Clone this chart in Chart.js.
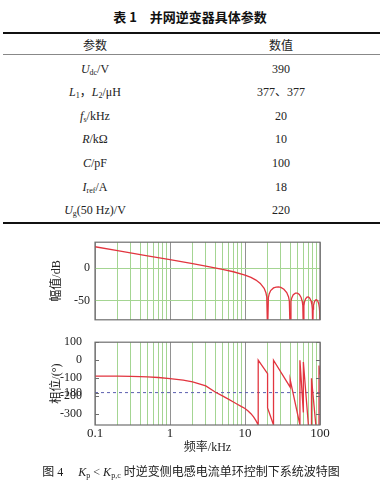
<!DOCTYPE html>
<html><head><meta charset="utf-8">
<script src="https://cdn.jsdelivr.net/npm/chart.js@4/dist/chart.umd.min.js"></script>
<style>
html,body{margin:0;padding:0;background:#fff;}
body{width:382px;height:486px;position:relative;overflow:hidden;font-family:"Liberation Serif","Noto Sans CJK SC",serif;color:#222;}
#ttl{position:absolute;left:0;width:380px;top:8px;height:18px;line-height:18px;text-align:center;font-family:"Noto Sans CJK SC";font-weight:bold;font-size:13px;color:#111;}
.rule{position:absolute;left:3px;width:377px;}
.cell{position:absolute;height:16px;line-height:16px;width:180px;text-align:center;font-size:12px;white-space:nowrap;}
.cell.l{left:5px;}
.cell.r{left:191px;}
.hd{font-family:"Noto Sans CJK SC";font-size:12px;}
sub{font-size:8px;vertical-align:-2px;line-height:0;font-style:normal;}
#cap{position:absolute;left:0;width:382px;top:464px;height:16px;line-height:16px;text-align:center;font-size:12px;white-space:nowrap;font-family:"Liberation Serif","Noto Sans CJK SC";}
canvas{position:absolute;left:0;}
</style>
</head><body>
<div id="ttl">表 1　并网逆变器具体参数</div>
<div class="rule" style="top:32px;height:1.5px;background:#111"></div>
<div class="cell l hd" style="top:37px">参数</div>
<div class="cell r hd" style="top:37px">数值</div>
<div class="rule" style="top:54px;height:1.3px;background:#888"></div>
<div id="rows"></div>
<div class="rule" style="top:222px;height:1.5px;background:#111"></div>
<canvas id="mag" width="382" height="102" style="top:230px"></canvas>
<canvas id="pha" width="382" height="125" style="top:330px"></canvas>
<div id="cap">图 4　 <i>K</i><sub>p</sub> &lt; <i>K</i><sub>p,c</sub> 时逆变侧电感电流单环控制下系统波特图</div>
<script>
// ---------- table data ----------
const paramNames = [
  '<i>U</i><sub>dc</sub>/V',
  '<i>L</i><sub>1</sub>，<i>L</i><sub>2</sub>/μH',
  '<i>f</i><sub>s</sub>/kHz',
  '<i>R</i>/kΩ',
  '<i>C</i>/pF',
  '<i>I</i><sub>ref</sub>/A',
  '<i>U</i><sub>g</sub>(50 Hz)/V'
];
const paramValues = ['390', '377、377', '20', '10', '100', '18', '220'];

// ---------- chart data ----------
const xTickLabels = ['0.1', '1', '10', '100'];
const magTicks = [-50, 0];
const phaseTicks = [100, 0, -100, -180, -200, -300];
const magFreq = [0.1,0.2,0.5,1,2,3,5,7,10,12,14,16,18,19,19.5,20,20.5,21,22,24,26,28,30,33,36,38,39,40,41,42,44,47,50,53,56,58,59,60,61,62,64,67,70,73,76,78,79,80,81,82,84,87,90,93,96,98,99,100];
const magDb = [33.0,27.0,19.0,13.0,6.8,3.1,-1.9,-5.7,-10.9,-14.5,-18.6,-23.7,-31.3,-38.2,-44.6,-100,-45.5,-39.9,-34.8,-30.7,-29.4,-29.2,-30.0,-32.7,-37.8,-44.3,-50.7,-100,-51.5,-46.1,-41.3,-38.8,-38.9,-40.9,-45.5,-51.7,-57.9,-100,-58.4,-52.8,-47.8,-45.0,-44.7,-46.5,-50.8,-56.8,-62.9,-100,-63.4,-57.7,-52.5,-49.5,-49.1,-50.7,-54.8,-60.8,-66.9,-100];
const phaseFreq = [0.1,0.15,0.2,0.3,0.4,0.5,0.7,1,1.5,2,3,4,5,6,7,8,9,10,11,12,13,14,15,15,20,20,24,24,40,40,54,54,60,60,70,70,77,77,88,88,97,97,100];
const phaseDeg = [-88,-88.5,-89,-90,-91,-92.5,-96,-102,-111,-121,-143,-177,-198,-216,-232,-246,-258,-268,-282,-297,-315,-336,-360,0,-75,-265,-360,0,-150,-108,-360,0,-290,-10,-360,-380,-380,-100,-360,-380,-380,-30,-80];
const refLine = -180;

// ---------- table build ----------
const rowsDiv = document.getElementById('rows');
paramNames.forEach((n, i) => {
  const y = 60.5 + i * 23.6;
  rowsDiv.insertAdjacentHTML('beforeend',
    `<div class="cell l" style="top:${y}px">${n}</div><div class="cell r" style="top:${y}px">${paramValues[i]}</div>`);
});

// ---------- chart helpers ----------
const RED = '#e2353f', GREEN = '#a4d592', DECADE = '#929292', FRAME = '#6e6e6e';
const gridFreqs = [];
[0.1, 1, 10].forEach(d => { for (let m = 1; m <= 9; m++) gridFreqs.push(Number((m * d).toPrecision(3))); });
gridFreqs.push(100);
const isDecade = v => Math.abs(Math.log10(v) - Math.round(Math.log10(v))) < 1e-6;
const decadeLabel = v => {
  const k = Math.round(Math.log10(v)) + 1;
  return xTickLabels[k] !== undefined ? xTickLabels[k] : '';
};
const tickFont = {family: '"Liberation Serif", serif', size: 12};
const titleFont = {family: '"Liberation Serif", "Noto Sans CJK SC", serif', size: 12};

const framePlugin = {
  id: 'frame',
  afterDatasetsDraw(chart, args, opts) {
    const {ctx, chartArea: a} = chart;
    ctx.save();
    ctx.strokeStyle = FRAME;
    ctx.lineWidth = 1.2;
    ctx.strokeRect(a.left, a.top, a.right - a.left, a.bottom - a.top);
    if (opts && opts.innerTicks) {
      const ys = chart.scales.y;
      ctx.lineWidth = 1;
      ys.ticks.forEach(t => {
        const py = Math.round(ys.getPixelForValue(t.value)) + 0.5;
        ctx.beginPath();
        ctx.moveTo(a.left, py); ctx.lineTo(a.left + 4, py);
        ctx.moveTo(a.right - 4, py); ctx.lineTo(a.right, py);
        ctx.stroke();
      });
    }
    ctx.restore();
  }
};

function xScale(showLabels) {
  return {
    type: 'logarithmic', min: 0.1, max: 100,
    afterBuildTicks: s => { s.ticks = gridFreqs.map(v => ({value: v})); },
    afterFit: s => { s.height = showLabels ? 30 : 0; },
    ticks: {display: showLabels, autoSkip: false, maxRotation: 0, padding: 1,
      font: {family: '"Liberation Serif", serif', size: 13}, color: '#222', callback: v => isDecade(v) ? decadeLabel(v) : ''},
    grid: {drawTicks: false, lineWidth: 1, color: c => (c.tick && isDecade(c.tick.value)) ? DECADE : GREEN},
    border: {display: false},
    title: {display: showLabels, text: '频率/kHz', font: titleFont, color: '#222', padding: 0}
  };
}

function yTitle(text) {
  return {display: true, text: text, font: titleFont, color: '#222', padding: 0};
}

new Chart(document.getElementById('mag'), {
  type: 'scatter',
  data: {datasets: [{
    data: magFreq.map((f, i) => ({x: f, y: magDb[i]})),
    showLine: true, borderColor: RED, borderWidth: 1.3, pointRadius: 0, tension: 0, fill: false
  }]},
  options: {
    responsive: false, animation: false, devicePixelRatio: 1,
    layout: {autoPadding: false, padding: {left: 50, right: 62, top: 8, bottom: 2}},
    plugins: {legend: {display: false}, tooltip: {enabled: false}},
    scales: {
      x: xScale(false),
      y: {
        type: 'linear', min: -80, max: 40,
        afterBuildTicks: s => { s.ticks = magTicks.map(v => ({value: v})); },
        afterFit: s => { s.width = 45; },
        ticks: {font: tickFont, color: '#222', padding: 5, autoSkip: false},
        grid: {drawTicks: false, color: GREEN},
        border: {display: false},
        title: yTitle('幅值/dB')
      }
    }
  },
  plugins: [framePlugin]
});

new Chart(document.getElementById('pha'), {
  type: 'scatter',
  data: {datasets: [
    {data: phaseFreq.map((f, i) => ({x: f, y: phaseDeg[i]})),
     showLine: true, borderColor: RED, borderWidth: 1.3, pointRadius: 0, tension: 0, fill: false, order: 0},
    {data: [{x: 0.1, y: refLine}, {x: 100, y: refLine}],
     showLine: true, borderColor: '#5b5fae', borderWidth: 1, borderDash: [3, 3], pointRadius: 0, order: 1}
  ]},
  options: {
    responsive: false, animation: false, devicePixelRatio: 1,
    layout: {autoPadding: false, padding: {left: 50, right: 62, top: 5, bottom: 0}},
    plugins: {legend: {display: false}, tooltip: {enabled: false}, frame: {innerTicks: true}},
    scales: {
      x: xScale(true),
      y: {
        type: 'linear', min: -360, max: 100,
        afterBuildTicks: s => { s.ticks = phaseTicks.map(v => ({value: v})); },
        afterFit: s => { s.width = 45; },
        ticks: {font: tickFont, color: '#222', padding: 5, autoSkip: false},
        grid: {display: false},
        border: {display: false},
        title: yTitle('相位/(°)')
      }
    }
  },
  plugins: [framePlugin]
});
</script>
</body></html>
